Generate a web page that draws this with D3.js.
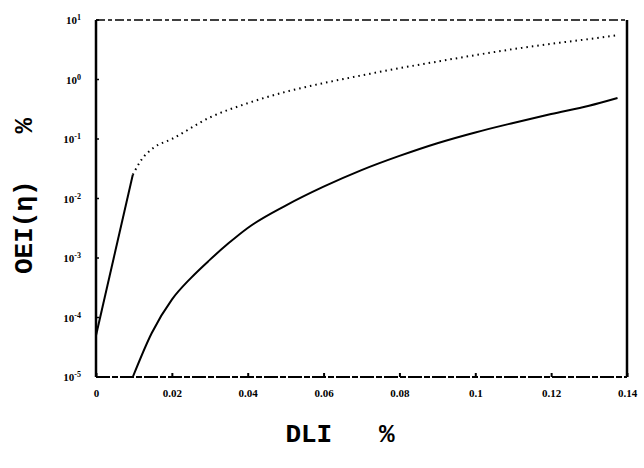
<!DOCTYPE html>
<html>
<head>
<meta charset="utf-8">
<script src="https://cdn.jsdelivr.net/npm/d3@7"></script>
<style>
  body { margin: 0; background: #fff; }
  svg { display: block; }
</style>
</head>
<body>
<div id="main"></div>
<script>
const ctx = {
    WIDTH: 644,
    HEIGHT: 468,
    left: 96, right: 627, top: 20, bottom: 377
};

// upper curve: solid rise then dotted
const upperX = [0, 0.0097, 0.012, 0.015, 0.02, 0.03, 0.04, 0.05, 0.06, 0.07, 0.08, 0.09, 0.1, 0.11, 0.12, 0.13, 0.1375];
const upperY = [5e-5, 0.025, 0.045, 0.07, 0.1, 0.23, 0.4, 0.62, 0.87, 1.17, 1.55, 2.0, 2.57, 3.24, 3.98, 4.79, 5.56];
const kneeIndex = 1;

// lower curve: solid
const lowerX = [0.0097, 0.0147, 0.02, 0.025, 0.03, 0.035, 0.04, 0.05, 0.06, 0.07, 0.08, 0.09, 0.1, 0.11, 0.12, 0.13, 0.1375];
const lowerY = [1e-5, 5.5e-5, 2e-4, 4.6e-4, 9.3e-4, 1.78e-3, 3.2e-3, 7.6e-3, 0.0158, 0.03, 0.052, 0.085, 0.129, 0.186, 0.263, 0.363, 0.49];

const xTicks = [0, 0.02, 0.04, 0.06, 0.08, 0.1, 0.12, 0.14];
const xTickLabels = ["0", "0.02", "0.04", "0.06", "0.08", "0.1", "0.12", "0.14"];
const yExponents = [1, 0, -1, -2, -3, -4, -5];

const svg = d3.select("#main").append("svg")
    .attr("width", ctx.WIDTH)
    .attr("height", ctx.HEIGHT);

const x = d3.scaleLinear().domain([0, 0.14]).range([ctx.left, ctx.right]);
const y = d3.scaleLog().domain([1e-5, 10]).range([ctx.bottom, ctx.top]);

// frame
svg.append("line").attr("x1", ctx.left).attr("x2", ctx.left)
    .attr("y1", ctx.top).attr("y2", ctx.bottom)
    .attr("stroke", "#000").attr("stroke-width", 2.5);
svg.append("line").attr("x1", ctx.right).attr("x2", ctx.right)
    .attr("y1", ctx.top).attr("y2", ctx.bottom)
    .attr("stroke", "#000").attr("stroke-width", 2.5);
svg.append("line").attr("x1", ctx.left).attr("x2", ctx.right)
    .attr("y1", ctx.top).attr("y2", ctx.top)
    .attr("stroke", "#000").attr("stroke-width", 1.5)
    .attr("stroke-dasharray", "9,3,4,3");
svg.append("line").attr("x1", ctx.left).attr("x2", ctx.right)
    .attr("y1", ctx.bottom).attr("y2", ctx.bottom)
    .attr("stroke", "#000").attr("stroke-width", 2)
    .attr("stroke-dasharray", "14,2,6,2");

// x ticks + labels
const xAxis = d3.axisBottom(x).tickValues(xTicks)
    .tickSize(-4).tickPadding(12)
    .tickFormat((d, i) => xTickLabels[i]);
const gx = svg.append("g")
    .attr("transform", `translate(0,${ctx.bottom})`)
    .call(xAxis);
gx.select(".domain").remove();
gx.selectAll("line").attr("stroke-width", 2);
gx.selectAll("text")
    .style("font-family", "'Liberation Serif', serif")
    .style("font-weight", "bold")
    .style("font-size", "11px");

// y ticks + labels
const gy = svg.append("g");
yExponents.forEach(e => {
    const t = gy.append("text")
        .attr("x", ctx.left - 15)
        .attr("y", y(Math.pow(10, e)) + 4)
        .attr("text-anchor", "end")
        .style("font-family", "'Liberation Serif', serif")
        .style("font-weight", "bold")
        .style("font-size", "11px");
    t.append("tspan").text("10");
    t.append("tspan").attr("dy", -4).style("font-size", "8px").text(String(e));
    gy.append("line")
        .attr("x1", ctx.left).attr("x2", ctx.left + 3)
        .attr("y1", y(Math.pow(10, e))).attr("y2", y(Math.pow(10, e)))
        .attr("stroke", "#000").attr("stroke-width", 1.5);
});

const line = d3.line()
    .x(d => x(d[0]))
    .y(d => y(d[1]))
    .curve(d3.curveMonotoneX);

const upper = upperX.map((v, i) => [v, upperY[i]]);
const lower = lowerX.map((v, i) => [v, lowerY[i]]);

svg.append("path")
    .datum(upper.slice(0, kneeIndex + 1))
    .attr("d", d3.line().x(d => x(d[0])).y(d => y(d[1])))
    .attr("fill", "none").attr("stroke", "#000").attr("stroke-width", 2);

svg.append("path")
    .datum(upper.slice(kneeIndex))
    .attr("d", line)
    .attr("fill", "none").attr("stroke", "#000").attr("stroke-width", 2)
    .attr("stroke-dasharray", "1.5,4");

svg.append("path")
    .datum(lower)
    .attr("d", line)
    .attr("fill", "none").attr("stroke", "#000").attr("stroke-width", 2);

// axis titles
svg.append("text")
    .attr("x", 340).attr("y", 442)
    .attr("text-anchor", "middle")
    .style("font-family", "'Liberation Mono', monospace")
    .style("font-weight", "bold")
    .style("font-size", "26px")
    .attr("xml:space", "preserve")
    .text("DLI   %");

svg.append("text")
    .attr("transform", "translate(32,196) rotate(-90)")
    .attr("text-anchor", "middle")
    .style("font-family", "'Liberation Mono', monospace")
    .style("font-weight", "bold")
    .style("font-size", "26px")
    .attr("xml:space", "preserve")
    .text("OEI(η)   %");
</script>
</body>
</html>
